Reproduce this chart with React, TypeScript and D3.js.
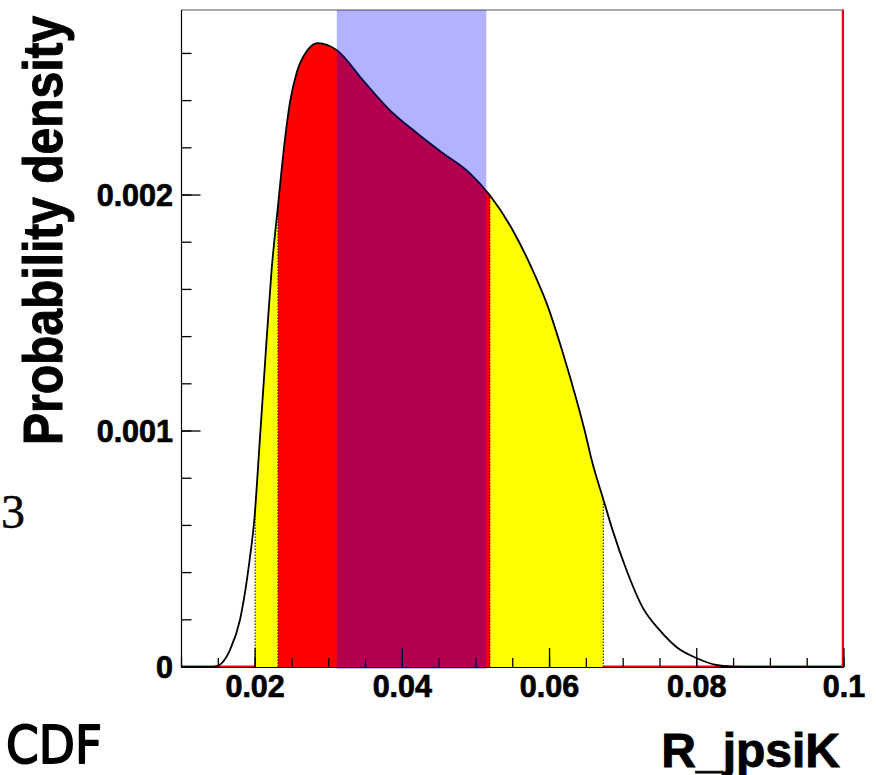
import React from "react";
import * as d3 from "d3";

const curveX = [0.01, 0.01387, 0.01482, 0.01658, 0.01794, 0.01929, 0.01989, 0.02064, 0.02156, 0.02224, 0.02305, 0.02404, 0.02472, 0.02567, 0.02703, 0.02852, 0.0311, 0.03463, 0.03829, 0.04196, 0.04548, 0.04915, 0.05186, 0.05498, 0.0577, 0.0596, 0.06177, 0.06367, 0.06475, 0.06583, 0.06733, 0.06855, 0.07045, 0.07262, 0.07493, 0.07723, 0.07995, 0.08266, 0.08483, 0.0885, 0.1];
const curveY = [0, 0, 0.004, 0.072, 0.199, 0.462, 0.623, 0.962, 1.386, 1.682, 1.936, 2.233, 2.39, 2.521, 2.61, 2.644, 2.614, 2.487, 2.36, 2.263, 2.178, 2.093, 2.0, 1.852, 1.682, 1.542, 1.335, 1.131, 1.004, 0.864, 0.708, 0.581, 0.411, 0.254, 0.157, 0.085, 0.038, 0.0085, 0.002, 0, 0].map((v) => v * 1e-3);

const yellowRange = [0.02, 0.0673];
const redRange = [0.0231, 0.0519];
const blueRange = [0.0311, 0.0514];

const xMajor = [0.02, 0.04, 0.06, 0.08, 0.1];
const xLabels = ["0.02", "0.04", "0.06", "0.08", "0.1"];
const xMinor = d3.range(2, 21).map((i) => i * 0.005);
const yMajor = [0, 0.001, 0.002];
const yLabels = ["0", "0.001", "0.002"];
const yMinor = d3.range(0, 14).map((i) => i * 0.0002);

const W = 876;
const H = 775;
const L = 181.5, R = 844, T = 10, B = 667;

export default function App() {
  const x = d3.scaleLinear().domain([0.01, 0.1]).range([L, R]);
  const y = d3.scaleLinear().domain([0, 0.002784]).range([B, T]);
  const pts: [number, number][] = curveX.map((v, i) => [v, curveY[i]]);
  const area = d3.area<[number, number]>().x((d) => x(d[0])).y0(B).y1((d) => y(d[1])).curve(d3.curveMonotoneX);
  const line = d3.line<[number, number]>().x((d) => x(d[0])).y((d) => y(d[1])).curve(d3.curveMonotoneX);
  const areaD = area(pts) || "";
  const lineD = line(pts) || "";
  const font = "'Liberation Sans', Arial, Helvetica, sans-serif";
  const boundaries = [
    { v: yellowRange[0], c: "#000" },
    { v: redRange[0], c: "#000" },
    { v: redRange[1], c: "#600" },
    { v: yellowRange[1], c: "#000" },
  ];
  return (
    <svg width={W} height={H} style={{ position: "absolute", left: 0, top: 0, background: "#fff" }}>
      <defs>
        <clipPath id="clipY">
          <rect x={x(yellowRange[0])} y={0} width={x(yellowRange[1]) - x(yellowRange[0])} height={H} />
        </clipPath>
        <clipPath id="clipR">
          <rect x={x(redRange[0])} y={0} width={x(redRange[1]) - x(redRange[0])} height={H} />
        </clipPath>
        <clipPath id="clipA">
          <path d={areaD} />
        </clipPath>
      </defs>
      <rect x={0} y={0} width={W} height={H} fill="#fff" />
      {/* red baseline */}
      <line x1={L} x2={R} y1={B - 0.8} y2={B - 0.8} stroke="#ff0000" strokeWidth={1.6} />
      <path d={areaD} fill="#ffff00" clipPath="url(#clipY)" />
      <path d={areaD} fill="#ff0000" clipPath="url(#clipR)" />
      <g clipPath="url(#clipA)">
        {boundaries.map((b, i) => (
          <line key={i} x1={x(b.v)} x2={x(b.v)} y1={B} y2={T} stroke={b.c} strokeWidth={1} strokeDasharray="1.5,1.5" />
        ))}
      </g>
      <path d={lineD} fill="none" stroke="#000" strokeWidth={1.8} />
      {/* frame */}
      <line x1={L} x2={R} y1={T} y2={T} stroke="#555" strokeWidth={1} />
      <line x1={L} x2={L} y1={T} y2={B + 0.5} stroke="#000" strokeWidth={1.2} />
      <line x1={L} x2={R} y1={B + 0.5} y2={B + 0.5} stroke="#000" strokeWidth={1.2} />
      <line x1={R - 0.5} x2={R - 0.5} y1={T} y2={B + 0.5} stroke="#444" strokeWidth={1} />
      <line x1={R - 1.5} x2={R - 1.5} y1={T} y2={B} stroke="#ff0000" strokeWidth={1.5} />
      {/* x ticks */}
      {xMinor.map((v, i) => (
        <line key={"xm" + i} x1={x(v)} x2={x(v)} y1={B} y2={B - 9} stroke="#000" strokeWidth={1.3} />
      ))}
      {xMajor.map((v, i) => (
        <line key={"xM" + i} x1={x(v)} x2={x(v)} y1={B} y2={B - 19} stroke="#000" strokeWidth={1.3} />
      ))}
      {/* y ticks */}
      {yMinor.map((v, i) => (
        <line key={"ym" + i} x1={L} x2={L + 10} y1={y(v)} y2={y(v)} stroke="#000" strokeWidth={1.3} />
      ))}
      {yMajor.map((v, i) => (
        <line key={"yM" + i} x1={L} x2={L + 19} y1={y(v)} y2={y(v)} stroke="#000" strokeWidth={1.3} />
      ))}
      {/* blue band on top */}
      <rect x={x(blueRange[0])} y={T} width={x(blueRange[1]) - x(blueRange[0])} height={B + 2 - T} fill="rgba(0,0,255,0.3)" />
      {/* tick labels */}
      {xMajor.map((v, i) => (
        <text key={"xl" + i} x={x(v)} y={697} textAnchor="middle" fontFamily={font} fontWeight="bold" fontSize={30.5} stroke="#000" strokeWidth={0.7} fill="#000">
          {xLabels[i]}
        </text>
      ))}
      {yMajor.map((v, i) => (
        <text key={"yl" + i} x={173} y={y(v) + 10.5} textAnchor="end" fontFamily={font} fontWeight="bold" fontSize={30.5} stroke="#000" strokeWidth={0.7} fill="#000">
          {yLabels[i]}
        </text>
      ))}
      <text transform="translate(62,445) rotate(-90) scale(1,1.145)" fontFamily={font} fontWeight="bold" fontSize={48} stroke="#000" strokeWidth={0.9} fill="#000">
        Probability density
      </text>
      <text x={840} y={767} textAnchor="end" fontFamily={font} fontWeight="bold" fontSize={48} stroke="#000" strokeWidth={0.9} fill="#000">
        R_jpsiK
      </text>
      <text x={6} y={763} fontFamily="'Comic Sans MS', 'DejaVu Sans', sans-serif" fontSize={52} textLength={96} lengthAdjust="spacingAndGlyphs" stroke="#000" strokeWidth={1.8} strokeLinejoin="round" fill="#000">
        CDF
      </text>
      <text x={1} y={528} fontFamily="'Liberation Serif', 'DejaVu Serif', serif" fontSize={48} stroke="#000" strokeWidth={0.4} fill="#000">
        3
      </text>
    </svg>
  );
}
